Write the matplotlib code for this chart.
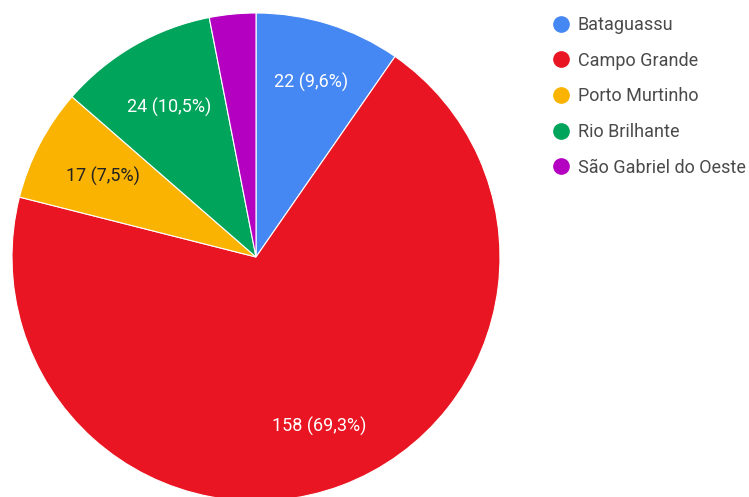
import numpy as np
import matplotlib
matplotlib.use("Agg")
import matplotlib.pyplot as plt
from matplotlib.lines import Line2D

cities = ["Bataguassu", "Campo Grande", "Porto Murtinho", "Rio Brilhante", "São Gabriel do Oeste"]
counts = [22, 158, 17, 24, 7]
colors = ["#4587f3", "#ea1522", "#fab300", "#00a45a", "#b400c1"]
label_colors = ["white", "white", "#222222", "white", "white"]
label_dist = [0.75, 0.74, 0.71, 0.71, 0.75]

plt.rcParams["font.family"] = ["Roboto", "DejaVu Sans"]

fig = plt.figure(figsize=(7.49, 4.97), dpi=100)
# pie centre at pixel (256, 257), radius 244 px
W, H = 749, 497
cx, cy, r = 256, 257, 244
ax = fig.add_axes([(cx - r) / W, (H - cy - r) / H, 2 * r / W, 2 * r / H])

total = sum(counts)
wedges, _ = ax.pie(counts, colors=colors, startangle=90, counterclock=False,
                   wedgeprops=dict(edgecolor="white", linewidth=0.8))
ax.set_xlim(-1, 1)
ax.set_ylim(-1, 1)
ax.set_aspect("auto")
ax.axis("off")

for w, n, c, d in zip(wedges, counts, label_colors, label_dist):
    pct = n / total * 100
    if pct < 5:
        continue
    mid = np.deg2rad((w.theta1 + w.theta2) / 2)
    txt = f"{n} ({pct:.1f}%)".replace(".", ",")
    ax.text(d * np.cos(mid), d * np.sin(mid), txt, color=c, fontsize=13,
            ha="center", va="center")

handles = [Line2D([], [], marker="o", linestyle="none", markersize=11,
                  markerfacecolor=c, markeredgecolor=c) for c in colors]
fig.legend(handles, cities, loc="upper left", bbox_to_anchor=(547 / W, 1 - 16 / H),
           frameon=False, fontsize=13, labelspacing=0.98, handlelength=1.5,
           handletextpad=0.2, labelcolor="#4a4a4a", borderaxespad=0, borderpad=0)

fig.savefig("out.png", dpi=100)
